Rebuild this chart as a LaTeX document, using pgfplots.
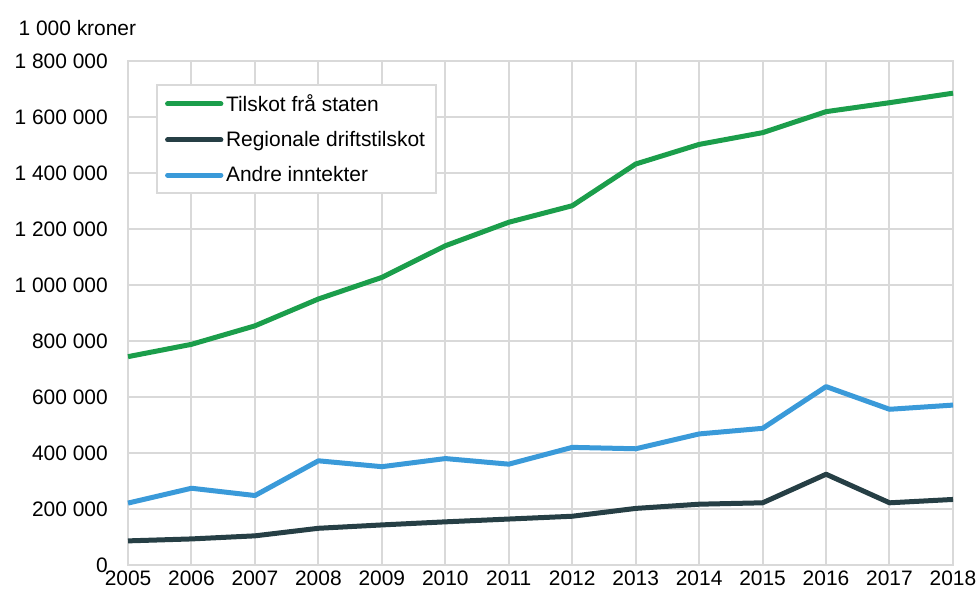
\documentclass[border=0pt]{standalone}
\usepackage{pgfplots}
\pgfplotsset{compat=1.18}
\usepackage{fontspec}
\setmainfont{Liberation Sans}
\definecolor{cgreen}{HTML}{1B9E4B}
\definecolor{cdark}{HTML}{263F45}
\definecolor{cblue}{HTML}{3A9AD9}
\definecolor{cgrid}{HTML}{D9D9D9}
\begin{document}
\begin{tikzpicture}[x=0.75pt,y=0.75pt]
\begin{axis}[
  scale only axis,
  width=618.75pt, height=378pt,
  xmin=2005, xmax=2018, ymin=0, ymax=1800000,
  xtick={2005,...,2018},
  xticklabels={2005,2006,2007,2008,2009,2010,2011,2012,2013,2014,2015,2016,2017,2018},
  ytick={0,200000,400000,600000,800000,1000000,1200000,1400000,1600000,1800000},
  yticklabels={0,200 000,400 000,600 000,800 000,1 000 000,1 200 000,1 400 000,1 600 000,1 800 000},
  grid=major,
  major grid style={cgrid, line width=1.5pt},
  axis line style={cgrid, line width=1.5pt},
  major tick length=0pt,
  tick label style={font=\fontsize{15.7}{18}\selectfont, text=black},
  yticklabel style={inner sep=0pt, xshift=-15pt},
  xticklabel style={inner sep=0pt, yshift=-4pt},
  scaled y ticks=false,
  clip=false,
  legend style={at={(0.034,0.954)}, anchor=north west, draw=cgrid, line width=1.5pt,
    font=\fontsize{15.7}{18}\selectfont, row sep=9.5pt, inner xsep=6pt, inner ysep=5pt,
    cells={anchor=west}},
  legend image code/.code={\draw[line width=3.75pt, line cap=round] (0pt,0pt) -- (40pt,0pt);},
  every axis plot/.append style={line width=3.75pt, line join=round},
]
\addplot[cgreen, mark=none] coordinates {
(2005,744000) (2006,788000) (2007,854000) (2008,950000) (2009,1027000) (2010,1140000) (2011,1224000)
(2012,1283000) (2013,1432000) (2014,1502000) (2015,1544000) (2016,1619000) (2017,1651000) (2018,1685000)};
\addlegendentry{Tilskot frå staten}
\addplot[cdark, mark=none] coordinates {
(2005,86000) (2006,93000) (2007,104000) (2008,131000) (2009,143000) (2010,154000) (2011,164000)
(2012,174000) (2013,202000) (2014,217000) (2015,222000) (2016,324000) (2017,222000) (2018,234000)};
\addlegendentry{Regionale driftstilskot}
\addplot[cblue, mark=none] coordinates {
(2005,221000) (2006,274000) (2007,248000) (2008,372000) (2009,351000) (2010,380000) (2011,360000)
(2012,420000) (2013,415000) (2014,468000) (2015,488000) (2016,637000) (2017,556000) (2018,571000)};
\addlegendentry{Andre inntekter}
\node[anchor=west, inner sep=0pt, font=\fontsize{15.7}{18}\selectfont] at (axis description cs:-0.133,1.066) {1 000 kroner};
\coordinate (bl) at (axis description cs:-0.1552,-0.0496);
\coordinate (tr) at (axis description cs:1.0315,1.121);
\end{axis}
\path (bl) rectangle (tr);
\end{tikzpicture}
\end{document}
